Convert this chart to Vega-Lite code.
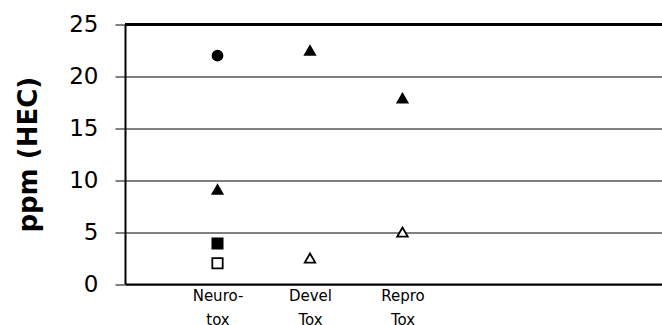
{
  "$schema": "https://vega.github.io/schema/vega-lite/v6.json",
  "width": 555,
  "height": 259.5,
  "autosize": {"type": "none"},
  "padding": {"left": 125, "top": 24.5, "right": 0, "bottom": 41},
  "background": "white",
  "config": {
    "view": {"stroke": null},
    "font": "DejaVu Sans"
  },
  "data": {
    "values": [
      {"endpoint": "Neuro-tox", "ppm": 22.0, "marker": "solid circle"},
      {"endpoint": "Neuro-tox", "ppm": 9.1, "marker": "solid triangle"},
      {"endpoint": "Neuro-tox", "ppm": 3.9, "marker": "solid square"},
      {"endpoint": "Neuro-tox", "ppm": 2.0, "marker": "open square"},
      {"endpoint": "Devel Tox", "ppm": 22.5, "marker": "solid triangle"},
      {"endpoint": "Devel Tox", "ppm": 2.5, "marker": "open triangle"},
      {"endpoint": "Repro Tox", "ppm": 17.9, "marker": "solid triangle"},
      {"endpoint": "Repro Tox", "ppm": 5.0, "marker": "open triangle"}
    ]
  },
  "layer": [
    {
      "mark": {"type": "rule", "color": "black", "strokeWidth": 2},
      "encoding": {"y": {"datum": 25, "type": "quantitative"}}
    },
    {
      "mark": {"type": "point", "filled": false, "stroke": "black", "strokeWidth": 1.8, "opacity": 1},
      "encoding": {
        "x": {
          "field": "endpoint",
          "type": "nominal",
          "scale": {
            "type": "point",
            "domain": ["", "Neuro-tox", "Devel Tox", "Repro Tox", " ", "  ", "   "],
            "padding": 0,
            "round": false
          },
          "axis": {
            "title": null,
            "ticks": false,
            "labelAngle": 0,
            "labelFont": "DejaVu Sans",
            "labelFontSize": 15,
            "labelColor": "black",
            "labelPadding": 4,
            "labelLineHeight": 24,
            "labelExpr": "datum.value == 'Neuro-tox' ? ['Neuro-', 'tox'] : split(datum.value, ' ')",
            "domainColor": "black",
            "domainWidth": 2,
            "grid": false
          }
        },
        "y": {
          "field": "ppm",
          "type": "quantitative",
          "scale": {"domain": [0, 25], "nice": false, "zero": true},
          "axis": {
            "title": "ppm (HEC)",
            "titleFont": "DejaVu Sans",
            "titleFontSize": 26,
            "titleFontWeight": "bold",
            "titleColor": "black",
            "titlePadding": 27,
            "values": [0, 5, 10, 15, 20, 25],
            "labelFont": "DejaVu Sans",
            "labelFontSize": 23,
            "labelColor": "black",
            "labelPadding": 17,
            "tickSize": 10,
            "tickColor": "#808080",
            "tickWidth": 2,
            "grid": true,
            "gridColor": "#808080",
            "gridWidth": 2,
            "domainColor": "black",
            "domainWidth": 2
          }
        },
        "shape": {
          "field": "marker",
          "type": "nominal",
          "scale": {
            "domain": ["solid circle", "solid triangle", "solid square", "open square", "open triangle"],
            "range": ["circle", "triangle-up", "square", "square", "triangle-up"]
          },
          "legend": null
        },
        "fill": {
          "field": "marker",
          "type": "nominal",
          "scale": {
            "domain": ["solid circle", "solid triangle", "solid square", "open square", "open triangle"],
            "range": ["black", "black", "black", "white", "white"]
          },
          "legend": null
        },
        "size": {
          "field": "marker",
          "type": "nominal",
          "scale": {
            "domain": ["solid circle", "solid triangle", "solid square", "open square", "open triangle"],
            "range": [100, 110, 110, 85, 95]
          },
          "legend": null
        }
      }
    }
  ]
}
